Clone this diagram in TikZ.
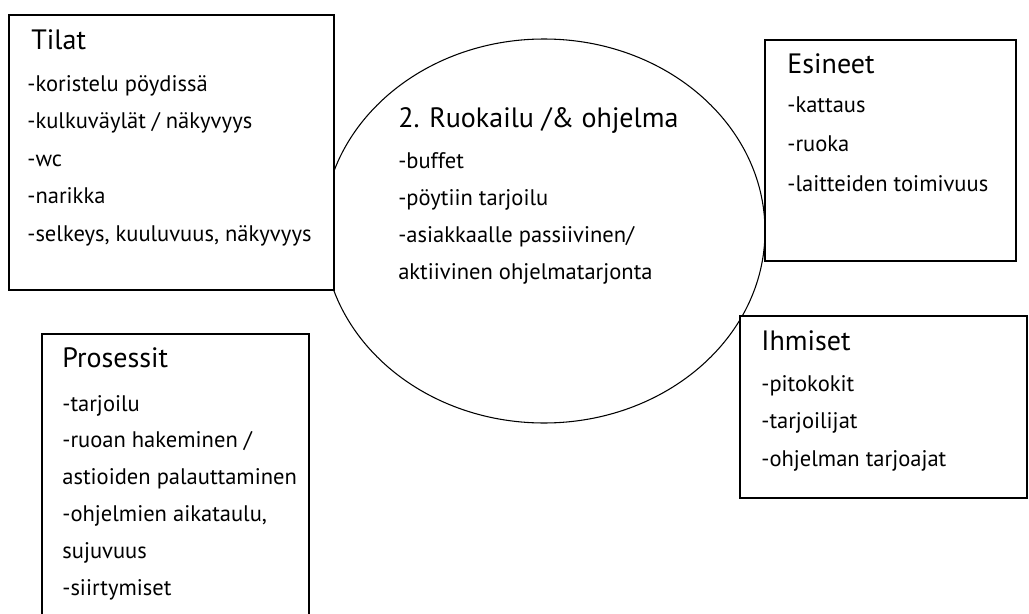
\documentclass[tikz,border=0pt]{standalone}
\usepackage{fontspec}
\setmainfont{PT Sans}
\usetikzlibrary{shapes.geometric}
\usetikzlibrary{fit}
\tikzset{
  box/.style={draw, line width=1.3pt, fill=white, inner sep=0pt},
  head/.style={anchor=base west, inner sep=0pt, font=\fontsize{21}{25}\selectfont},
  item/.style={anchor=base west, inner sep=0pt, font=\fontsize{16.9}{20}\selectfont},
}

\begin{document}
\begin{tikzpicture}[x=0.75pt,y=-0.75pt]

  \useasboundingbox (0,0) rectangle (1029,614);

  % the oval in the middle
  \node[ellipse, draw, line width=0.8pt, minimum width=331.5pt, minimum height=288pt] (ruokailu) at (544,231) {};

  \begin{scope}
  \clip (0,0) rectangle (1029,614);
  \node[box, fit={(9,15) (334,290)}] (tilat) {};
  \node[box, fit={(765,40) (1016,261)}] (esineet) {};
  \node[box, fit={(740,316) (1027,498)}] (ihmiset) {};
  \node[box, fit={(42,334) (309,640)}] (prosessit) {};
  \end{scope}

  % titles
  \node[head] (tilat-t) at ([shift={(23,35)}]tilat.north west) {Tilat};
  \node[head] (ruokailu-t) at ([shift={(-146,-104)}]ruokailu.center) {2. Ruokailu /\& ohjelma};
  \node[head] (esineet-t) at ([shift={(23,34)}]esineet.north west) {Esineet};
  \node[head] (ihmiset-t) at ([shift={(22,35)}]ihmiset.north west) {Ihmiset};
  \node[head] (prosessit-t) at ([shift={(21,34)}]prosessit.north west) {Prosessit};

  % lists
  \foreach \t [count=\i from 0] in {-koristelu pöydissä, -kulkuväylät / näkyvyys, -wc, -narikka, {-selkeys, kuuluvuus, näkyvyys}}
    \node[item] (tilat-\i) at ([shift={(19,77+37.5*\i)}]tilat.north west) {\t};

  \foreach \t [count=\i from 0] in {-buffet, -pöytiin tarjoilu, -asiakkaalle passiivinen/, aktiivinen ohjelmatarjonta}
    \node[item] (ruokailu-\i) at ([shift={(-146,-63+37*\i)}]ruokailu.center) {\t};

  \foreach \t [count=\i from 0] in {-kattaus, -ruoka, -laitteiden toimivuus}
    \node[item] (esineet-\i) at ([shift={(23,73+39.5*\i)}]esineet.north west) {\t};

  \foreach \t [count=\i from 0] in {-pitokokit, -tarjoilijat, -ohjelman tarjoajat}
    \node[item] (ihmiset-\i) at ([shift={(22,76+37.5*\i)}]ihmiset.north west) {\t};

  \foreach \t [count=\i from 0] in {-tarjoilu, -ruoan hakeminen /, astioiden palauttaminen, {-ohjelmien aikataulu,}, sujuvuus, -siirtymiset}
    \node[item] (prosessit-\i) at ([shift={(21,78+36.8*\i)}]prosessit.north west) {\t};

\end{tikzpicture}
\end{document}
